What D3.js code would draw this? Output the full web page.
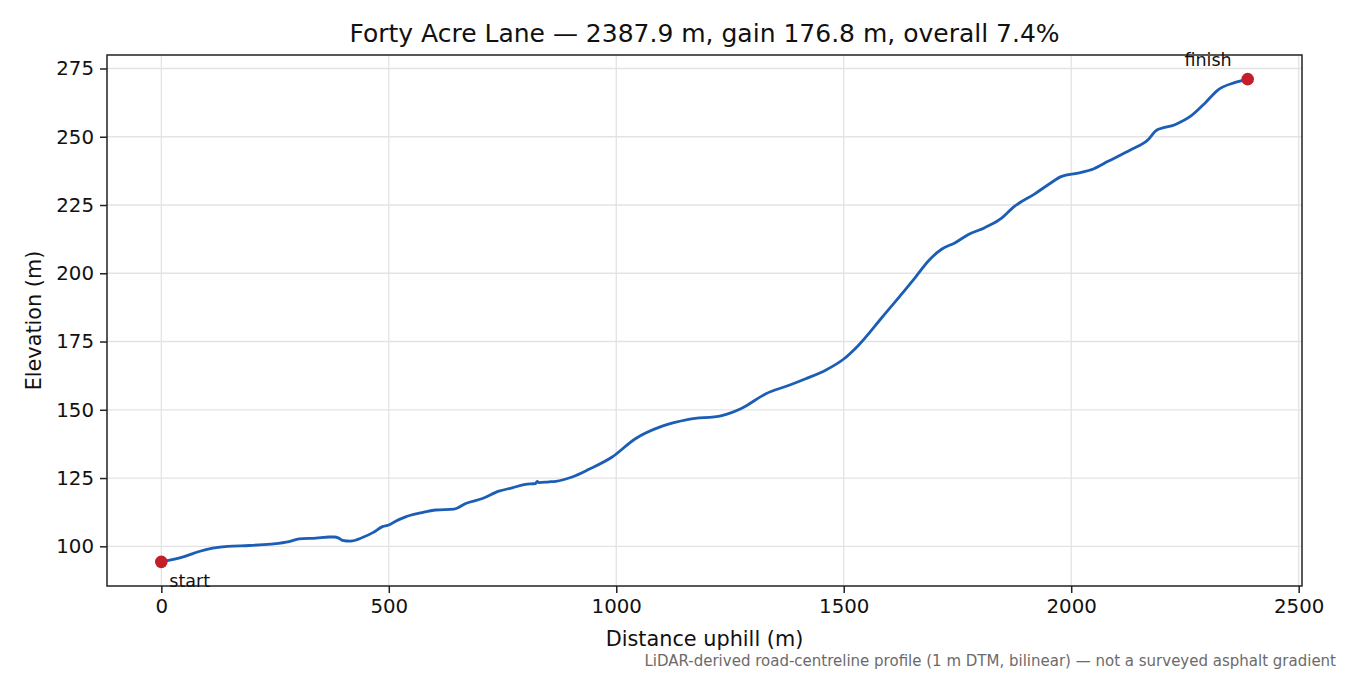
<!DOCTYPE html>
<html>
<head>
<meta charset="utf-8">
<script src="https://cdn.jsdelivr.net/npm/d3@7"></script>
<style>
  html, body { margin: 0; padding: 0; background: #fff; }
  svg { display: block; font-family: "DejaVu Sans", sans-serif; }
</style>
</head>
<body>
<svg id="chart" width="1350" height="675"></svg>
<script>
// ---- data ----
const distances = [0, 50, 83, 113, 146, 193, 240, 281, 303, 340, 369, 380, 390, 398, 416, 442, 465, 486, 500, 515, 537, 570, 603, 643, 669, 706, 742, 771, 800, 823, 826, 830, 852, 867, 903, 940, 991, 1042, 1101, 1159, 1232, 1276, 1328, 1380, 1415, 1460, 1500, 1530, 1584, 1657, 1686, 1715, 1745, 1774, 1810, 1843, 1876, 1920, 1950, 1979, 2015, 2050, 2081, 2132, 2169, 2187, 2228, 2264, 2294, 2323, 2359, 2387.9];
const elevations = [94.3, 96.2, 98.1, 99.3, 100.0, 100.3, 100.8, 101.7, 102.7, 103.0, 103.4, 103.4, 103.0, 102.2, 101.9, 103.2, 105.0, 107.2, 107.8, 109.2, 110.8, 112.2, 113.3, 113.6, 115.7, 117.5, 120.2, 121.4, 122.7, 123.0, 123.8, 123.3, 123.6, 123.8, 125.4, 128.2, 132.7, 139.4, 144.0, 146.5, 147.9, 150.6, 155.8, 159.0, 161.3, 164.5, 168.6, 173.2, 183.8, 198.4, 204.5, 208.8, 211.2, 214.2, 216.7, 219.7, 224.6, 229.1, 232.5, 235.5, 236.7, 238.3, 241.0, 245.3, 248.9, 252.3, 254.4, 257.7, 262.3, 267.2, 269.8, 271.1];
const xTicks = [0, 500, 1000, 1500, 2000, 2500];
const yTicks = [100, 125, 150, 175, 200, 225, 250, 275];
const endpointLabels = ["start", "finish"];
const titleText = "Forty Acre Lane — 2387.9 m, gain 176.8 m, overall 7.4%";
const xLabelText = "Distance uphill (m)";
const yLabelText = "Elevation (m)";
const noteText = "LiDAR-derived road-centreline profile (1 m DTM, bilinear) — not a surveyed asphalt gradient";

// ---- layout ----
const plot = { left: 107, right: 1302, top: 55, bottom: 586 };
const svg = d3.select("#chart");
const data = distances.map((d, i) => ({ d, v: elevations[i] }));

const xExt = d3.extent(distances), yExt = d3.extent(elevations);
const xPad = (xExt[1] - xExt[0]) * 0.05, yPad = (yExt[1] - yExt[0]) * 0.05;
const x = d3.scaleLinear().domain([xExt[0] - xPad, xExt[1] + xPad]).range([plot.left, plot.right]);
const y = d3.scaleLinear().domain([yExt[0] - yPad, yExt[1] + yPad]).range([plot.bottom, plot.top]);

// grid
const grid = svg.append("g");
grid.selectAll("line.gx").data(xTicks).join("line")
  .attr("x1", d => x(d)).attr("x2", d => x(d))
  .attr("y1", plot.top).attr("y2", plot.bottom)
  .attr("stroke", "#e3e3e3").attr("stroke-width", 1.3);
grid.selectAll("line.gy").data(yTicks).join("line")
  .attr("x1", plot.left).attr("x2", plot.right)
  .attr("y1", d => y(d)).attr("y2", d => y(d))
  .attr("stroke", "#e3e3e3").attr("stroke-width", 1.3);

// axes
const xAxis = d3.axisBottom(x).tickValues(xTicks).tickSize(7).tickPadding(6).tickFormat(d3.format("d"));
const yAxis = d3.axisLeft(y).tickValues(yTicks).tickSize(7).tickPadding(6).tickFormat(d3.format("d"));
const gx = svg.append("g").attr("transform", `translate(0,${plot.bottom})`).call(xAxis);
const gy = svg.append("g").attr("transform", `translate(${plot.left},0)`).call(yAxis);
[gx, gy].forEach(g => {
  g.select(".domain").remove();
  g.selectAll(".tick line").attr("stroke", "#222").attr("stroke-width", 1.5);
  g.selectAll(".tick text").attr("fill", "#111").style("font-size", "19.8px").style("font-family", "DejaVu Sans");
});

// frame
svg.append("rect")
  .attr("x", plot.left).attr("y", plot.top)
  .attr("width", plot.right - plot.left).attr("height", plot.bottom - plot.top)
  .attr("fill", "none").attr("stroke", "#222").attr("stroke-width", 1.5);

// profile line
const line = d3.line().x(p => x(p.d)).y(p => y(p.v)).curve(d3.curveMonotoneX);
svg.append("path").datum(data)
  .attr("d", line)
  .attr("fill", "none").attr("stroke", "#1c5db5").attr("stroke-width", 2.8)
  .attr("stroke-linejoin", "round").attr("stroke-linecap", "round");

// endpoints
const ends = [data[0], data[data.length - 1]];
svg.selectAll("circle.end").data(ends).join("circle")
  .attr("cx", p => x(p.d)).attr("cy", p => y(p.v)).attr("r", 6.3)
  .attr("fill", "#c41e2a");
svg.selectAll("text.endlbl").data(ends).join("text")
  .attr("x", (p, i) => x(p.d) + (i === 0 ? 8 : -16))
  .attr("y", (p, i) => y(p.v) + (i === 0 ? 25 : -13))
  .attr("text-anchor", (p, i) => i === 0 ? "start" : "end")
  .style("font-size", "17.5px").attr("fill", "#111")
  .text((p, i) => endpointLabels[i]);

// title & labels
svg.append("text").attr("x", (plot.left + plot.right) / 2).attr("y", 42)
  .attr("text-anchor", "middle").style("font-size", "25px").attr("fill", "#111").text(titleText);
svg.append("text").attr("x", (plot.left + plot.right) / 2).attr("y", 646)
  .attr("text-anchor", "middle").style("font-size", "20.8px").attr("fill", "#111").text(xLabelText);
svg.append("text")
  .attr("transform", `translate(41,${(plot.top + plot.bottom) / 2}) rotate(-90)`)
  .attr("text-anchor", "middle").style("font-size", "20.8px").attr("fill", "#111").text(yLabelText);
svg.append("text").attr("x", 1336).attr("y", 666)
  .attr("text-anchor", "end").style("font-size", "15px").attr("fill", "#6b6b6b").text(noteText);
</script>
</body>
</html>
